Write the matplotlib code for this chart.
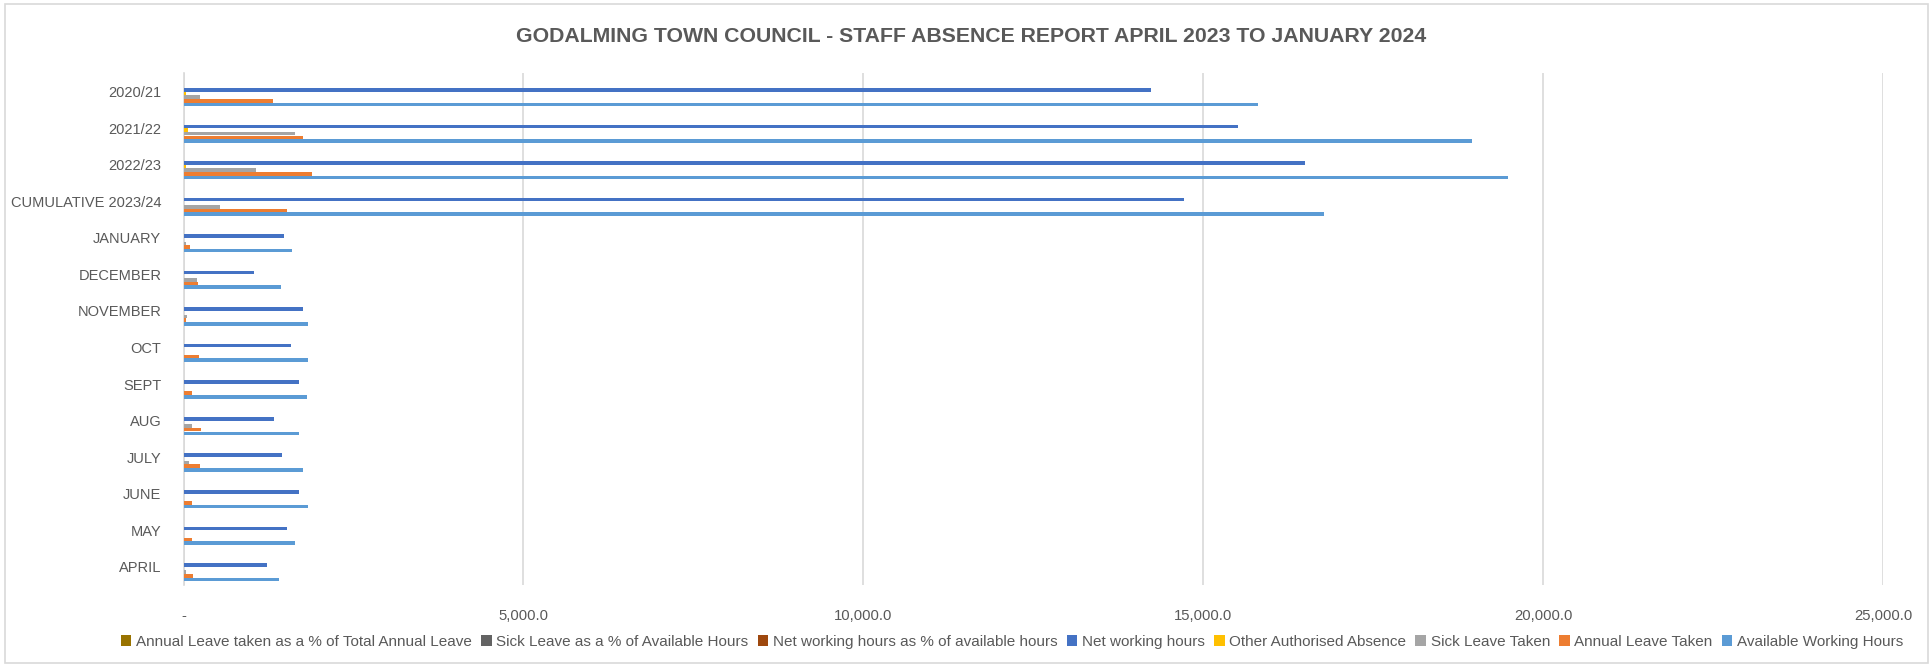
import matplotlib
matplotlib.use("Agg")
import matplotlib.pyplot as plt
from matplotlib.patches import Patch, Rectangle
from matplotlib.ticker import FuncFormatter, MultipleLocator
import numpy as np

plt.rcParams['font.family'] = ['Liberation Sans', 'DejaVu Sans']

# ---- data (display order: top to bottom) ----
categories = ["2020/21", "2021/22", "2022/23", "CUMULATIVE 2023/24", "JANUARY", "DECEMBER",
              "NOVEMBER", "OCT", "SEPT", "AUG", "JULY", "JUNE", "MAY", "APRIL"]

annual_pct = [0.85, 0.90, 0.95, 0.80, 0.08, 0.15, 0.02, 0.16, 0.08, 0.18, 0.17, 0.09, 0.09, 0.10]
sick_pct = [0.02, 0.09, 0.05, 0.03, 0.02, 0.14, 0.03, 0.00, 0.00, 0.08, 0.05, 0.00, 0.00, 0.02]
net_pct = [0.90, 0.82, 0.85, 0.88, 0.93, 0.73, 0.96, 0.86, 0.93, 0.78, 0.82, 0.93, 0.93, 0.88]
net_hours = [14224, 15507, 16493, 14718, 1482, 1041, 1757, 1576, 1694, 1331, 1444, 1703, 1522, 1228]
other_absence = [30, 62, 41, 10, 0, 0, 0, 10, 0, 0, 0, 0, 0, 0]
sick_taken = [243, 1635, 1066, 532, 32, 194, 47, 0, 0, 129, 85, 5, 0, 32]
annual_taken = [1312, 1757, 1885, 1518, 91, 209, 32, 228, 121, 253, 247, 125, 121, 144]
available_hours = [15801, 18950, 19481, 16768, 1600, 1434, 1831, 1826, 1812, 1699, 1762, 1831, 1640, 1400]

series_names = ["Annual Leave taken as a % of Total Annual Leave",
                "Sick Leave as a % of Available Hours",
                "Net working hours as % of available hours",
                "Net working hours",
                "Other Authorised Absence",
                "Sick Leave Taken",
                "Annual Leave Taken",
                "Available Working Hours"]
series_values = [annual_pct, sick_pct, net_pct, net_hours, other_absence,
                 sick_taken, annual_taken, available_hours]
series_colors = ["#997300", "#636363", "#9E480E", "#4472C4", "#FFC000",
                 "#A5A5A5", "#ED7D31", "#5B9BD5"]

title_text = "GODALMING TOWN COUNCIL - STAFF ABSENCE REPORT APRIL 2023 TO JANUARY 2024"

W, H = 1933, 667
fig = plt.figure(figsize=(W / 100, H / 100), dpi=100)
fig.patch.set_facecolor("white")

# chart area border
fig.add_artist(Rectangle((5.5 / W, 1 - 663 / H), (1928 - 5.5) / W, (663 - 4) / H,
                         transform=fig.transFigure, fill=False, edgecolor="#d9d9d9", lw=1.2))

ax_left, ax_right, ax_top, ax_bot = 183.5, 1883.3, 73.4, 585.0
ax = fig.add_axes([ax_left / W, 1 - ax_bot / H, (ax_right - ax_left) / W, (ax_bot - ax_top) / H])

n = len(categories)
y = np.arange(n)
bh = 0.1
for k, (name, vals, col) in enumerate(zip(series_names, series_values, series_colors)):
    off = (k - 3.5) * bh
    ax.barh(y + off, vals, height=bh * 0.98, color=col, label=name, zorder=3, linewidth=0)

ax.set_ylim(n - 0.5, -0.5)
ax.set_xlim(0, 25000)
ax.xaxis.set_major_locator(MultipleLocator(5000))
ax.xaxis.set_major_formatter(FuncFormatter(lambda v, p: "-" if v == 0 else f"{v:,.1f}"))
ax.set_yticks(y)
ax.set_yticklabels(categories)
ax.grid(axis="x", color="#d9d9d9", lw=1.2, zorder=0)
for s in ["top", "right", "bottom"]:
    ax.spines[s].set_visible(False)
ax.spines["left"].set_color("#d9d9d9")
ax.spines["left"].set_linewidth(1.2)
ax.tick_params(axis="both", length=0, colors="#595959", labelsize=10)
ax.tick_params(axis="y", pad=16)
ax.tick_params(axis="x", pad=17)

renderer = fig.canvas.get_renderer()

def fit_size(txt, target_px, base):
    txt.set_fontsize(base)
    w = txt.get_window_extent(renderer).width
    return base * target_px / w

# fit y tick label size: "CUMULATIVE 2023/24" is ~151 px wide in reference
fig.canvas.draw()
ylab = [t for t in ax.get_yticklabels() if t.get_text() == "CUMULATIVE 2023/24"][0]
ysize = fit_size(ylab, 151, 10)
ax.tick_params(axis="y", labelsize=ysize)
fig.canvas.draw()
xlab = [t for t in ax.get_xticklabels() if t.get_text() == "25,000.0"][0]
xsize = fit_size(xlab, 58, 10)
ax.tick_params(axis="x", labelsize=xsize)

title = fig.text(971 / W, 1 - 37 / H, title_text, ha="center", va="center", fontsize=15,
                 fontweight="bold", color="#595959")
title.set_fontsize(fit_size(title, 915, 15))

handles = [Patch(facecolor=c, edgecolor="none") for c in series_colors]

def make_legend(fs):
    return fig.legend(handles, series_names, loc="center", bbox_to_anchor=(1012 / W, 1 - 642 / H),
                      ncol=8, frameon=False, fontsize=fs, handlelength=0.7, handleheight=0.7,
                      handletextpad=0.3, columnspacing=0.6, labelcolor="#595959",
                      borderpad=0, borderaxespad=0)

fs = 10.0
for _ in range(3):
    leg = make_legend(fs)
    fig.canvas.draw()
    w = leg.get_window_extent(renderer).width
    leg.remove()
    fs = fs * 1790 / w
leg = make_legend(fs)

fig.savefig("out.png", dpi=100, facecolor="white")
